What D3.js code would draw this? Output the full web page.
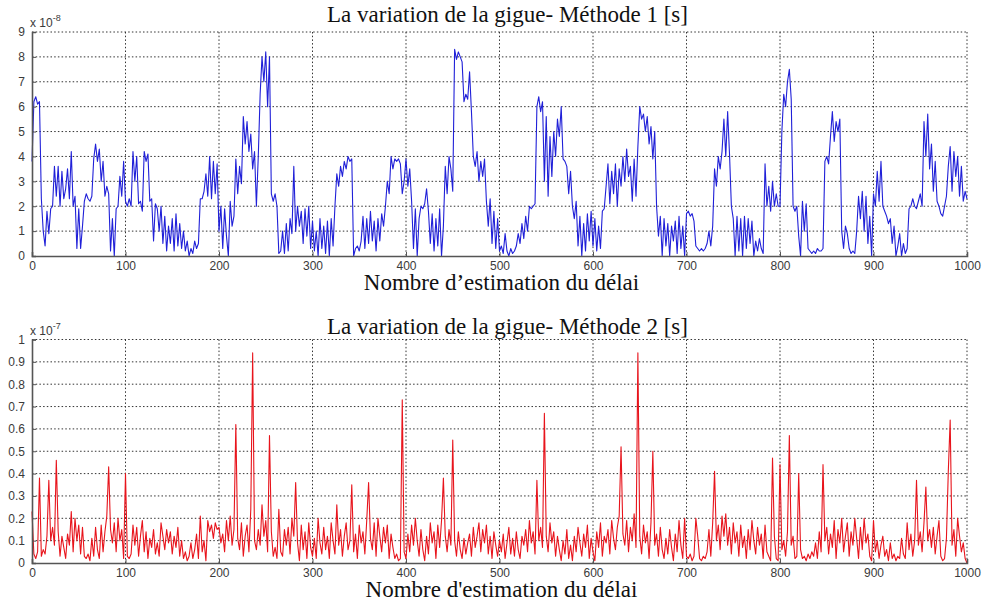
<!DOCTYPE html>
<html>
<head>
<meta charset="utf-8">
<script src="https://cdn.jsdelivr.net/npm/d3@7"></script>
<style>
  html, body { margin: 0; padding: 0; background: #fff; }
  svg { display: block; }
  .tick-label { font-family: "Liberation Sans", Arial, sans-serif; font-size: 12px; fill: #3a3a3a; }
  .caption { font-family: "Liberation Serif", "DejaVu Serif", serif; font-size: 23px; fill: #111; }
</style>
</head>
<body>
<svg id="chart" width="984" height="601"></svg>
<script>
// Sample spacing along the estimation axis
const STEP = 2;

// Method 1 jitter (units of 1e-8 s), one value every STEP estimations
const jitter1_000 = [3.8,6.2,6.4,6.1,6.2,2.3,1.0,0.4,1.8,0.9,1.9,2.0,3.6,2.4,3.6,2.0,3.4,2.3,2.7,3.5,
  2.3,4.2,2.0,2.4,0.3,1.9,0.3,1.2,2.2,2.5,2.3,2.2,2.4,3.9,4.5,3.8,4.3,3.0,3.8,2.4,
  2.8,2.5,0.2,1.5,0.0,1.9,2.0,3.2,2.4,3.8,2.2,2.0,2.3,2.0,4.2,3.0,4.0,2.1,2.2,1.8,
  4.2,3.8,4.1,2.2,2.3,0.6,2.1,1.9,1.0,2.0,0.5,1.6,0.2,1.2,0.5,1.5,0.2,1.7,0.4,1.3,
  0.3,1.0,0.2,0.6,0.0,0.3,0.1,0.6,0.3,0.5,2.3,2.3,2.6,3.3,2.4,4.0,2.3,3.8,2.5,3.7];
const jitter1_200 = [1.0,2.0,0.3,1.9,0.8,0.0,2.2,1.2,1.6,3.9,2.5,3.6,2.9,5.6,4.5,5.4,4.2,4.9,3.5,4.2,
  2.0,4.0,6.5,8.0,7.0,8.2,6.0,8.0,2.5,2.2,2.5,2.0,0.1,0.2,1.0,0.1,1.3,0.2,1.5,0.9,
  3.6,1.0,2.0,1.2,1.8,0.5,1.9,0.8,2.0,0.3,1.4,0.2,1.0,0.0,1.5,0.3,1.2,0.1,1.4,0.0,
  1.5,0.4,2.0,3.3,2.8,3.6,3.2,3.8,3.5,4.0,3.8,3.9,0.0,0.3,0.4,0.2,0.6,1.6,0.3,1.5,
  0.5,1.8,0.6,1.4,0.2,1.5,0.6,1.7,1.2,2.0,3.0,2.5,4.0,3.5,3.9,3.8,3.9,3.7,2.5,3.0];
const jitter1_400 = [3.9,2.8,3.5,2.2,0.3,1.9,0.0,1.5,2.0,1.9,2.1,2.7,1.8,0.5,1.7,0.2,1.5,0.4,1.9,0.0,
  1.2,3.6,2.5,4.0,3.5,2.6,8.3,7.9,8.2,8.0,7.8,6.2,6.5,6.3,7.4,5.8,4.0,3.6,4.2,3.0,
  3.8,3.2,3.9,2.2,1.2,2.3,0.5,1.8,0.3,1.5,0.2,0.4,0.1,0.9,0.2,0.0,0.3,0.1,0.2,0.4,
  0.9,0.5,1.3,0.7,1.6,1.0,2.0,1.9,2.0,2.1,6.0,6.4,5.8,6.2,3.0,5.6,2.4,4.8,3.2,5.0,
  4.0,5.5,4.8,6.0,3.9,3.8,3.6,2.5,3.4,2.0,1.5,2.2,0.4,1.6,0.0,1.3,0.2,1.7,0.6,1.8];
const jitter1_600 = [0.4,1.5,0.2,1.2,0.3,1.8,1.9,2.8,3.7,2.1,3.4,2.5,3.7,2.0,3.5,2.8,4.0,3.0,4.3,3.2,
  3.6,2.2,3.9,2.4,4.4,6.0,5.5,5.7,5.0,5.6,4.5,5.2,3.9,5.0,2.0,0.8,1.6,0.0,1.5,0.4,
  1.3,0.0,1.2,0.6,1.4,0.1,1.6,0.3,1.2,0.0,1.7,1.8,1.6,1.7,1.4,0.4,0.3,0.2,0.3,0.2,
  0.3,0.5,1.0,0.4,1.2,3.5,2.8,4.0,3.5,4.2,5.5,4.0,5.8,4.1,2.0,1.5,0.0,1.6,0.2,1.5,
  0.0,1.6,0.3,1.5,0.5,1.4,0.0,0.6,0.2,0.7,0.3,0.1,3.7,2.0,2.8,1.8,3.0,2.0,2.5,2.0];
const jitter1_800 = [2.0,5.0,6.5,6.0,7.0,7.5,6.3,2.0,1.8,2.0,0.8,0.0,2.2,1.0,2.1,0.3,0.2,0.1,0.2,0.1,
  0.3,0.2,0.2,0.3,3.8,4.0,3.7,4.8,5.8,4.6,5.4,5.0,5.5,1.0,0.3,1.2,0.9,0.3,0.1,0.2,
  0.1,1.0,2.4,1.5,2.6,1.0,2.4,0.5,1.6,0.0,2.5,2.0,3.4,2.2,3.8,2.0,1.8,1.6,1.3,1.5,
  0.5,1.2,0.0,0.4,0.9,0.0,0.5,0.1,0.3,1.9,2.0,2.3,2.0,1.9,2.2,2.5,2.0,5.4,4.0,5.7,
  3.5,4.5,2.6,3.8,2.2,2.0,1.7,1.6,2.0,2.4,3.6,4.4,2.6,4.2,3.2,4.0,2.4,3.6,2.2,2.6,2.3];

// Method 2 jitter (units of 1e-7 s), one value every STEP estimations
const jitter2_000 = [0.23,0.04,0.02,0.05,0.38,0.03,0.06,0.04,0.12,0.37,0.10,0.16,0.08,0.46,0.14,0.03,0.12,0.07,0.02,0.13,
  0.08,0.23,0.05,0.20,0.10,0.17,0.04,0.16,0.03,0.02,0.04,0.01,0.11,0.03,0.16,0.06,0.02,0.17,0.05,0.14,
  0.21,0.43,0.15,0.09,0.18,0.05,0.20,0.10,0.15,0.02,0.40,0.03,0.02,0.04,0.17,0.08,0.16,0.03,0.12,0.19,
  0.05,0.14,0.02,0.11,0.07,0.15,0.04,0.09,0.03,0.18,0.12,0.06,0.15,0.09,0.14,0.04,0.12,0.07,0.16,0.03,
  0.10,0.02,0.05,0.01,0.03,0.09,0.02,0.06,0.13,0.02,0.21,0.05,0.10,0.01,0.19,0.14,0.17,0.11,0.18,0.15];
const jitter2_200 = [0.16,0.09,0.13,0.05,0.19,0.10,0.21,0.08,0.15,0.62,0.11,0.06,0.18,0.03,0.12,0.17,0.05,0.24,0.94,0.10,
  0.06,0.15,0.08,0.26,0.12,0.19,0.05,0.57,0.14,0.03,0.07,0.02,0.24,0.05,0.03,0.15,0.08,0.16,0.04,0.20,
  0.12,0.36,0.09,0.01,0.17,0.06,0.14,0.02,0.18,0.07,0.03,0.11,0.02,0.20,0.09,0.04,0.16,0.06,0.12,0.02,
  0.18,0.10,0.04,0.26,0.08,0.15,0.03,0.12,0.18,0.06,0.10,0.35,0.05,0.13,0.02,0.17,0.09,0.14,0.04,0.19,
  0.36,0.11,0.06,0.18,0.03,0.20,0.12,0.05,0.16,0.09,0.17,0.02,0.13,0.07,0.02,0.04,0.01,0.02,0.73,0.05];
const jitter2_400 = [0.02,0.13,0.05,0.17,0.08,0.20,0.10,0.03,0.15,0.06,0.01,0.12,0.04,0.18,0.09,0.14,0.02,0.17,0.07,0.19,
  0.38,0.12,0.05,0.15,0.08,0.55,0.10,0.03,0.14,0.06,0.02,0.11,0.04,0.09,0.13,0.03,0.16,0.07,0.12,0.18,
  0.05,0.15,0.09,0.17,0.04,0.12,0.02,0.14,0.08,0.03,0.10,0.05,0.13,0.02,0.09,0.16,0.04,0.11,0.03,0.14,
  0.06,0.02,0.12,0.08,0.15,0.05,0.19,0.09,0.14,0.04,0.37,0.10,0.16,0.07,0.67,0.12,0.05,0.18,0.09,0.14,
  0.03,0.12,0.06,0.01,0.10,0.04,0.15,0.02,0.08,0.01,0.12,0.05,0.16,0.09,0.03,0.13,0.07,0.17,0.02,0.11];
const jitter2_600 = [0.05,0.01,0.14,0.07,0.18,0.03,0.12,0.09,0.15,0.04,0.19,0.11,0.06,0.16,0.21,0.52,0.13,0.08,0.19,0.05,
  0.16,0.10,0.22,0.07,0.94,0.12,0.04,0.17,0.09,0.14,0.02,0.18,0.50,0.08,0.13,0.03,0.16,0.06,0.02,0.11,
  0.04,0.15,0.07,0.01,0.13,0.05,0.19,0.08,0.02,0.20,0.03,0.02,0.04,0.01,0.03,0.20,0.12,0.02,0.01,0.03,
  0.02,0.05,0.15,0.03,0.18,0.41,0.10,0.17,0.06,0.21,0.12,0.22,0.08,0.16,0.04,0.18,0.09,0.14,0.03,0.17,
  0.07,0.12,0.02,0.15,0.06,0.19,0.10,0.04,0.16,0.08,0.13,0.02,0.17,0.05,0.03,0.01,0.47,0.12,0.02,0.01];
const jitter2_800 = [0.44,0.06,0.10,0.03,0.14,0.57,0.08,0.12,0.02,0.03,0.40,0.06,0.02,0.03,0.01,0.04,0.02,0.05,0.03,0.09,
  0.02,0.14,0.05,0.44,0.10,0.16,0.04,0.13,0.07,0.19,0.02,0.15,0.09,0.20,0.05,0.12,0.18,0.03,0.14,0.08,
  0.20,0.11,0.02,0.16,0.06,0.20,0.09,0.13,0.03,0.01,0.19,0.05,0.10,0.02,0.08,0.12,0.03,0.06,0.01,0.09,
  0.02,0.04,0.01,0.03,0.02,0.11,0.04,0.02,0.18,0.06,0.13,0.03,0.10,0.37,0.08,0.14,0.05,0.18,0.34,0.10,
  0.15,0.07,0.16,0.04,0.12,0.19,0.03,0.01,0.02,0.11,0.41,0.64,0.08,0.15,0.03,0.20,0.12,0.05,0.09,0.02,0.00];

const jitter1 = [].concat(jitter1_000, jitter1_200, jitter1_400, jitter1_600, jitter1_800);
const jitter2 = [].concat(jitter2_000, jitter2_200, jitter2_400, jitter2_600, jitter2_800);

const xTicks = [0, 100, 200, 300, 400, 500, 600, 700, 800, 900, 1000];
const yTicks1 = [0, 1, 2, 3, 4, 5, 6, 7, 8, 9];
const yTicks2 = [0, 0.1, 0.2, 0.3, 0.4, 0.5, 0.6, 0.7, 0.8, 0.9, 1];

const panels = [
  { title: "La variation de la gigue- Méthode 1 [s]", xlabel: "Nombre d\u2019estimation du délai",
    values: jitter1, yMax: 9, yTicks: yTicks1, exponent: "-8", color: "#2020d8",
    top: 32, bottom: 256, titleY: 22, xlabelY: 290 },
  { title: "La variation de la gigue- Méthode 2 [s]", xlabel: "Nombre d'estimation du délai",
    values: jitter2, yMax: 1, yTicks: yTicks2, exponent: "-7", color: "#e8141c",
    top: 339.5, bottom: 563, titleY: 334, xlabelY: 597 }
];

const left = 32, right = 967;
const svg = d3.select("#chart");

panels.forEach(p => {
  const x = d3.scaleLinear().domain([0, 1000]).range([left, right]);
  const y = d3.scaleLinear().domain([0, p.yMax]).range([p.bottom, p.top]);
  const g = svg.append("g");

  // dotted grid, including the top and right frame edges
  g.append("g").selectAll("line.vg").data(xTicks.slice(1)).join("line")
    .attr("x1", d => x(d)).attr("x2", d => x(d))
    .attr("y1", p.top).attr("y2", p.bottom)
    .attr("stroke", "#333").attr("stroke-width", 1).attr("stroke-dasharray", "1.5,2.2");
  g.append("g").selectAll("line.hg").data(p.yTicks.slice(1)).join("line")
    .attr("x1", left).attr("x2", right)
    .attr("y1", d => y(d)).attr("y2", d => y(d))
    .attr("stroke", "#333").attr("stroke-width", 1).attr("stroke-dasharray", "1.5,2.2");

  // data trace
  const line = d3.line().x((d, i) => x(i * STEP)).y(d => y(d));
  g.append("path").datum(p.values)
    .attr("d", line).attr("fill", "none")
    .attr("stroke", p.color).attr("stroke-width", 1.1).attr("stroke-linejoin", "round");

  // solid left and bottom axes with inward ticks
  const xAxis = d3.axisBottom(x).tickValues(xTicks).tickSize(-4).tickPadding(5).tickFormat(d3.format("d"));
  const yAxis = d3.axisLeft(y).tickValues(p.yTicks).tickSize(-4).tickPadding(7)
    .tickFormat(p.yMax === 1 ? (d => d === 0 || d === 1 ? String(d) : d3.format(".1f")(d)) : d3.format("d"));

  const gx = g.append("g").attr("transform", `translate(0,${p.bottom})`).call(xAxis);
  const gy = g.append("g").attr("transform", `translate(${left},0)`).call(yAxis);
  [gx, gy].forEach(a => {
    a.select(".domain").attr("stroke", "#555").attr("stroke-width", 1.6);
    a.selectAll(".tick line").attr("stroke", "#555");
    a.selectAll(".tick text").attr("class", "tick-label").attr("fill", null);
  });

  // exponent marker above the y axis
  const ex = g.append("text").attr("class", "tick-label").attr("x", left - 2).attr("y", p.top - 5)
    .style("font-size", "12px");
  ex.append("tspan").text("x 10");
  ex.append("tspan").attr("dy", -6).style("font-size", "9px").text(p.exponent);

  // title and x label
  g.append("text").attr("class", "caption").attr("x", (left + right) / 2 + 8).attr("y", p.titleY)
    .attr("text-anchor", "middle").text(p.title);
  g.append("text").attr("class", "caption").attr("x", (left + right) / 2 + 2).attr("y", p.xlabelY)
    .attr("text-anchor", "middle").text(p.xlabel);
});
</script>
</body>
</html>
